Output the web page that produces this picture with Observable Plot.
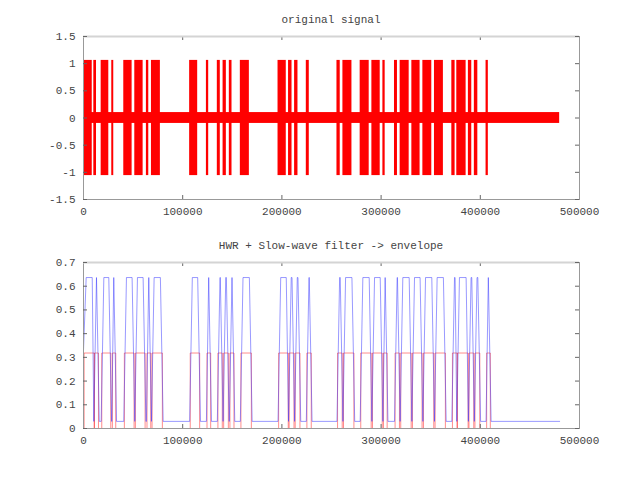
<!DOCTYPE html>
<html>
<head>
<meta charset="utf-8">
<script src="https://cdn.jsdelivr.net/npm/d3@7"></script>
<script src="https://cdn.jsdelivr.net/npm/@observablehq/plot@0.6"></script>
<style>
  body { margin: 0; background: #fff; }
  #wrap { position: relative; width: 640px; height: 480px; }
  .ttl { position: absolute; left: 83px; width: 496px; text-align: center;
         font-family: "Liberation Mono", "DejaVu Sans Mono", monospace; font-size: 11px;
         line-height: 12px; color: #444; }
  svg { display: block; }
</style>
</head>
<body>
<div id="wrap">
  <div id="charts"></div>
  <div class="ttl" style="top:14px">original signal</div>
  <div class="ttl" style="top:240px">HWR + Slow-wave filter -&gt; envelope</div>
</div>
<script>
// ---- data (sample indices) ----
const burstStart = [0, 10400, 17800, 28500, 40600, 51700, 63400, 68500,
  107000, 123900, 134900, 140700, 147000, 158100,
  196100, 206700, 212800, 224600,
  255500, 261500, 278900, 290700, 301800, 313500, 319200, 331000, 342100, 353800,
  371300, 376300, 388000, 394000, 405800];
const burstEnd = [8800, 13100, 25500, 30500, 49000, 60100, 65800, 77500,
  115100, 126200, 137900, 144000, 149700, 167200,
  204400, 210200, 216200, 227600,
  258800, 270600, 288000, 299100, 304100, 316500, 328300, 339300, 351100, 362800,
  374600, 385700, 391400, 397500, 408100];
const signalEnd = 480000;
const noiseAmp = 0.1;
const burstAmp = 1.06;
const envHigh = 0.6366;   // blue envelope plateau
const envLow = 0.03;      // blue envelope floor
const envFirst = 0.33;    // blue value at sample 0
const envRise = 2700;
const envFall = 2800;
const hwrLevel = 0.3183;  // red level
const hwrOn = 600, hwrOff = 2000;

const xTicks = [0, 100000, 200000, 300000, 400000, 500000];
const topYTicks = [-1.5, -1, -0.5, 0, 0.5, 1, 1.5];
const botYTicks = [0, 0.1, 0.2, 0.3, 0.4, 0.5, 0.6, 0.7];

const bursts = burstStart.map((s, i) => ({s, e: burstEnd[i]}));

// blue envelope vertices
const blue = [];
bursts.forEach((b, i) => {
  blue.push({x: b.s, y: i === 0 ? envFirst : envLow});
  const peakX = b.s + Math.min(envRise, b.e - b.s);
  blue.push({x: peakX, y: envHigh});
  if (b.e > peakX) blue.push({x: b.e, y: envHigh});
  const next = i + 1 < bursts.length ? bursts[i + 1].s : signalEnd;
  blue.push({x: Math.min(b.e + envFall, next), y: envLow});
});
blue.push({x: signalEnd, y: envLow});

// red HWR step
const red = [{x: 0, y: 0}];
bursts.forEach(b => {
  red.push({x: b.s + hwrOn, y: 0}, {x: b.s + hwrOn, y: hwrLevel},
           {x: b.e + hwrOff, y: hwrLevel}, {x: b.e + hwrOff, y: 0});
});
red.push({x: signalEnd, y: 0});

const W = 640, L = 83, R = 61;
const xDom = [0, 500000];
const pxPerX = (W - L - R) / (xDom[1] - xDom[0]);
const tickPx = 4;
const fmt = d => String(d);

function frameMarks(yDom, innerH) {
  const dy = tickPx * (yDom[1] - yDom[0]) / innerH;
  return [
    Plot.ruleX(xTicks, {x: d => d, y1: yDom[0], y2: yDom[0] + dy, stroke: "#666"}),
    Plot.ruleX(xTicks, {x: d => d, y1: yDom[1] - dy, y2: yDom[1], stroke: "#666"}),
    Plot.frame({stroke: "#999"}),
    Plot.ruleY([yDom[1]], {stroke: "#d4d4d4", strokeWidth: 2}),
    Plot.axisX({ticks: xTicks, tickSize: 0, tickPadding: 8, tickFormat: fmt, fill: "#444"}),
  ];
}
function yTickMarks(ticks, dx) {
  return [
    Plot.ruleY(ticks, {y: d => d, x1: xDom[0], x2: xDom[0] + dx, stroke: "#666"}),
    Plot.ruleY(ticks, {y: d => d, x1: xDom[1] - dx, x2: xDom[1], stroke: "#666"}),
    Plot.axisY({ticks, tickSize: 0, tickPadding: 8, tickFormat: fmt, fill: "#444"})
  ];
}

const plotStyle = {fontFamily: "'Liberation Mono', 'DejaVu Sans Mono', monospace", fontSize: "11px", background: "white", color: "#444"};
const dxData = tickPx / pxPerX;

// top panel
const topH = 240, topMT = 36, topMB = 41;
const topDom = [-1.5, 1.5];
const topChart = Plot.plot({
  width: W, height: topH, marginLeft: L, marginRight: R, marginTop: topMT, marginBottom: topMB,
  style: plotStyle,
  x: {domain: xDom, label: null},
  y: {domain: topDom, label: null},
  marks: [
    Plot.rect([{a: 0, b: signalEnd}], {x1: "a", x2: "b", y1: () => -noiseAmp, y2: () => noiseAmp, fill: "#ff0000"}),
    Plot.rect(bursts, {x1: "s", x2: "e", y1: () => -burstAmp, y2: () => burstAmp, fill: "#ff0000"}),
    ...frameMarks(topDom, topH - topMT - topMB),
    ...yTickMarks(topYTicks, dxData)
  ]
});

// bottom panel
const botH = 240, botMT = 22, botMB = 52;
const botDom = [0, 0.7];
const botChart = Plot.plot({
  width: W, height: botH, marginLeft: L, marginRight: R, marginTop: botMT, marginBottom: botMB,
  style: plotStyle,
  x: {domain: xDom, label: null},
  y: {domain: botDom, label: null},
  marks: [
    Plot.line(red, {x: "x", y: "y", stroke: "#ff0000", strokeOpacity: 0.45, strokeWidth: 1}),
    Plot.line(blue, {x: "x", y: "y", stroke: "#3333ff", strokeOpacity: 0.5, strokeWidth: 1}),
    ...frameMarks(botDom, botH - botMT - botMB),
    ...yTickMarks(botYTicks, dxData)
  ]
});

document.getElementById("charts").append(topChart, botChart);
</script>
</body>
</html>
